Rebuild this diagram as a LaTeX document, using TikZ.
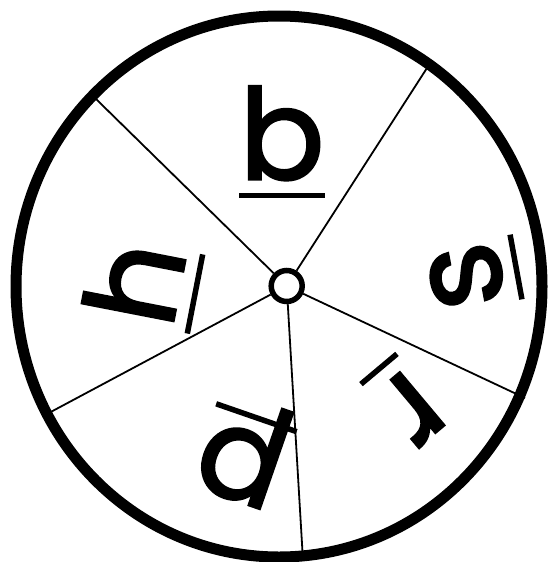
\documentclass[tikz,border=0pt]{standalone}
\usepackage{fontspec}
\setmainfont{Poppins}
\newfontfamily\letfont[FakeBold=2]{Poppins}
\newcommand{\ulet}[1]{\setbox0\hbox{#1}\rlap{\rule[-18.75pt]{\wd0}{5.5pt}}\box0}
\begin{document}
\begin{tikzpicture}[x=1pt,y=-1pt,
  spoke/.style={line width=1.8pt},
  letter/.style={inner sep=0pt, outer sep=0pt, anchor=south, font=\letfont\fontsize{126}{126}\selectfont}]
\useasboundingbox (0,0) rectangle (548,562);
\coordinate (r1) at (427,68);
\coordinate (r2) at (95.5,98.5);
\coordinate (r3) at (50.7,412);
\coordinate (r4) at (302.5,552);
\coordinate (r5) at (525,398);
\node[draw, circle, fill=white, line width=5.5pt, inner sep=0pt, minimum size=31pt] (hub) at (286.7,286) {};
\foreach \r in {r1,r2,r3,r4,r5} \draw[spoke] (hub) -- (\r);
\draw[line width=11pt] (279,286.5) ellipse [x radius=263, y radius=270.5];
\node[letter, rotate=0] (lb) at (282,198) {\ulet{b}};
\node[letter, rotate=100.4] (ls) at (518.7,266.5) {\ulet{s}};
\node[letter, rotate=-140] (lr) at (377.2,366.9) {\ulet{r}};
\node[letter, rotate=160.9] (lp) at (261.9,401.9) {\ulet{p}};
\node[letter, rotate=79] (lh) at (197.7,294.5) {\ulet{h}};
\end{tikzpicture}
\end{document}
